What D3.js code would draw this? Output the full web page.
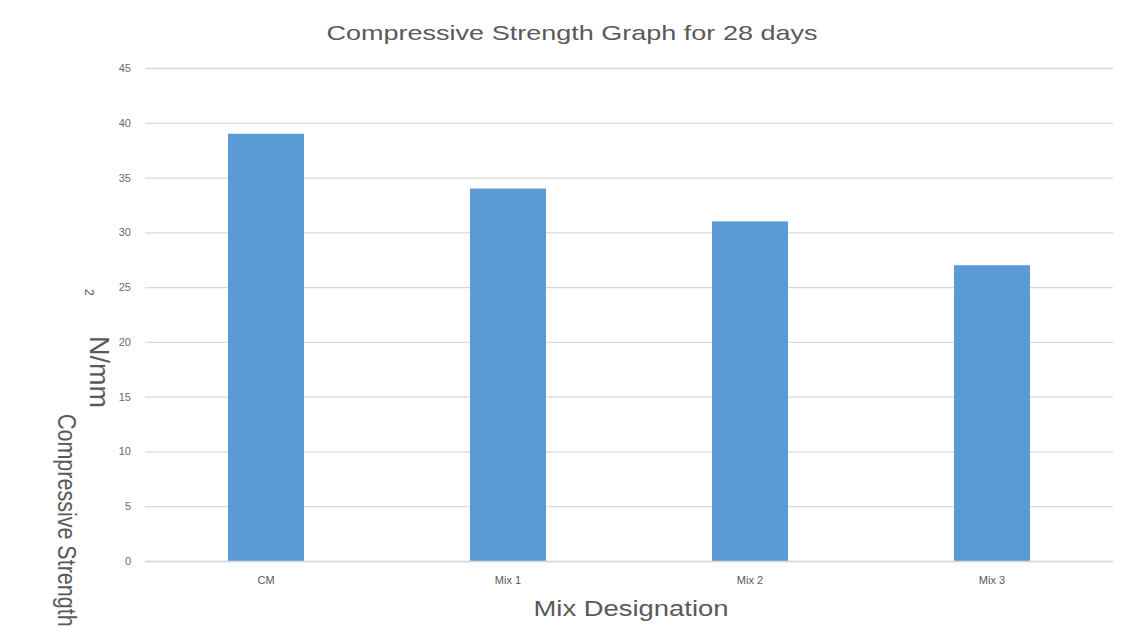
<!DOCTYPE html>
<html>
<head>
<meta charset="utf-8">
<script src="https://cdn.jsdelivr.net/npm/d3@7"></script>
<style>
	body { margin: 0; background: #fff; }
	text { font-family: "Liberation Sans", Arial, sans-serif; fill: #595959; }
</style>
</head>
<body>
<div id="chart"></div>
<script>
// chart data
const categories = ["CM", "Mix 1", "Mix 2", "Mix 3"];
const strength = [39, 34, 31, 27];
const yTicks = [0, 5, 10, 15, 20, 25, 30, 35, 40, 45];

const width = 1130;
const height = 641;
const plot = { left: 145, right: 1113, top: 68, bottom: 561 };

let svg = d3.select("#chart")
	.append("svg")
	.attr("width", width)
	.attr("height", height);

let x = d3.scaleBand()
	.domain(categories)
	.range([plot.left, plot.right])
	.paddingInner(0.686)
	.paddingOuter(0.343);

let y = d3.scaleLinear()
	.domain([0, 45])
	.range([plot.bottom, plot.top]);

// gridlines + y labels
let yAxis = svg.append("g")
	.attr("transform", "translate(" + plot.left + ",0)")
	.call(d3.axisLeft(y).tickValues(yTicks).tickSize(-(plot.right - plot.left)).tickPadding(14));
yAxis.select(".domain").remove();
yAxis.selectAll(".tick line").attr("stroke", "#d9d9d9").attr("stroke-width", 1.3);
yAxis.selectAll(".tick text").attr("font-size", 11).style("fill", "#6a6a6a");

// bars
svg.selectAll(".bar")
	.data(strength)
	.enter().append("rect")
	.attr("class", "bar")
	.attr("x", function (d, i) { return x(categories[i]); })
	.attr("y", function (d) { return y(d); })
	.attr("width", x.bandwidth())
	.attr("height", function (d) { return y(0) - y(d); })
	.attr("fill", "#5b9bd5");

// x axis
let xAxis = svg.append("g")
	.attr("transform", "translate(0," + plot.bottom + ")")
	.call(d3.axisBottom(x).tickSize(0).tickPadding(15));
xAxis.select(".domain").attr("stroke", "#d9d9d9").attr("stroke-width", 1.3);
xAxis.selectAll(".tick text").attr("font-size", 11).style("fill", "#595959");

// title
svg.append("text")
	.attr("x", 572)
	.attr("y", 40)
	.attr("text-anchor", "middle")
	.attr("font-size", 21)
	.attr("textLength", 491)
	.attr("lengthAdjust", "spacingAndGlyphs")
	.text("Compressive Strength Graph for 28 days");

// x axis title
svg.append("text")
	.attr("x", 631)
	.attr("y", 616)
	.attr("text-anchor", "middle")
	.attr("font-size", 22)
	.attr("textLength", 195)
	.attr("lengthAdjust", "spacingAndGlyphs")
	.text("Mix Designation");

// y axis title: smaller font stretched across, so it stays above the bottom edge
svg.append("text")
	.attr("transform", "translate(58,414) rotate(90) scale(1,1.2)")
	.attr("font-size", 21.5)
	.text("Compressive Strength");

svg.append("text")
	.attr("transform", "translate(90,336) rotate(90)")
	.attr("font-size", 27)
	.text("N/mm");

svg.append("text")
	.attr("transform", "translate(85,289) rotate(90)")
	.attr("font-size", 12)
	.text("2");
</script>
</body>
</html>
